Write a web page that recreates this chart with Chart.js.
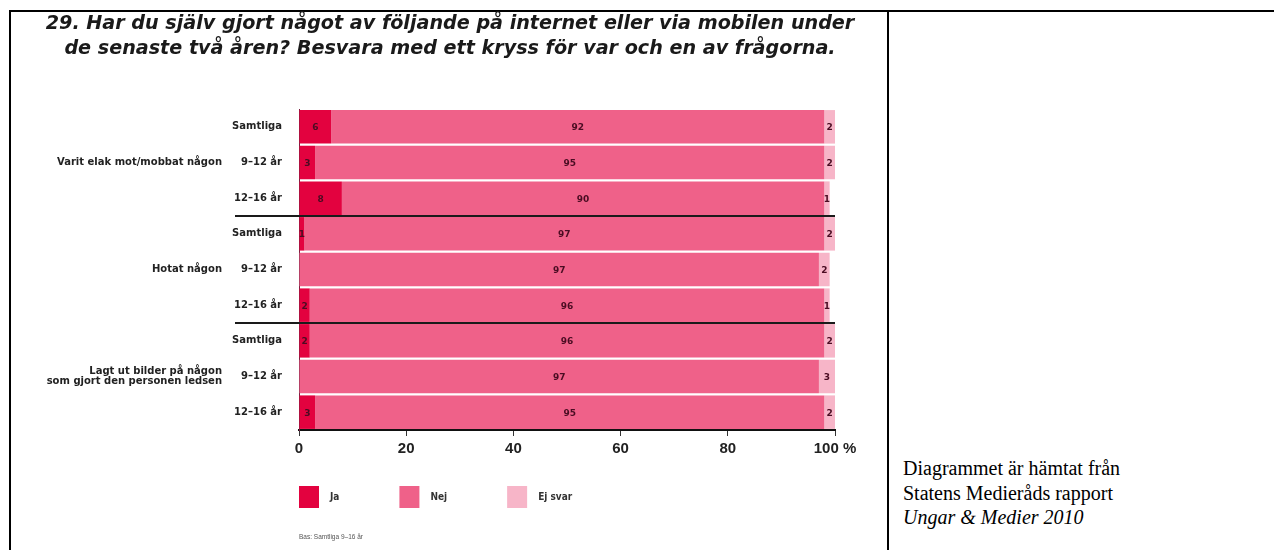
<!DOCTYPE html>
<html>
<head>
<meta charset="utf-8">
<script src="https://cdn.jsdelivr.net/npm/chart.js@4/dist/chart.umd.min.js"></script>
<style>
  html, body { margin: 0; padding: 0; background: #fff; }
  body { width: 1275px; height: 550px; position: relative; overflow: hidden; }
  .line { position: absolute; background: #000; }
  #title {
    position: absolute; left: 11px; width: 877px; top: 10px;
    text-align: center; font-family: "Liberation Sans Narrow", "DejaVu Sans Condensed", sans-serif;
    font-weight: bold; font-style: italic; font-size: 19px; line-height: 24.5px; color: #1a1a1a;
    transform: scaleX(1.12); transform-origin: 434px 0;
  }
  #wrap { position: absolute; left: 0; top: 0; width: 880px; height: 550px; }
  #note {
    position: absolute; left: 299px; top: 533px; font-family: "Liberation Sans", sans-serif;
    font-size: 6.5px; color: #555;
  }
  #source {
    position: absolute; left: 903px; top: 456px; font-family: "Liberation Serif", serif;
    font-size: 20px; line-height: 24.5px; color: #000;
  }
</style>
</head>
<body>
<div class="line" style="left:9px; top:10px; width:1265px; height:2px;"></div>
<div class="line" style="left:9px; top:10px; width:2px; height:540px;"></div>
<div class="line" style="left:887px; top:10px; width:2px; height:540px;"></div>

<div id="wrap"><canvas id="chart"></canvas></div>

<div id="title">29. Har du själv gjort något av följande på internet eller via mobilen under<br>de senaste två åren? Besvara med ett kryss för var och en av frågorna.</div>
<div id="note">Bas: Samtliga 9–16 år</div>
<div id="source">Diagrammet är hämtat från<br>Statens Medieråds rapport<br><i>Ungar &amp; Medier 2010</i></div>

<script>
// rows: three questions, each split into Samtliga / 9–12 år / 12–16 år
const groupLabels = [
    ['Varit elak mot/mobbat någon'],
    ['Hotat någon'],
    ['Lagt ut bilder på någon', 'som gjort den personen ledsen']
];
const ageLabels = ['Samtliga', '9–12 år', '12–16 år'];
const categories = [].concat(ageLabels, ageLabels, ageLabels);

const jaValues = [6, 3, 8, 1, 0, 2, 2, 0, 3];
const nejValues = [92, 95, 90, 97, 97, 96, 96, 97, 95];
const ejSvarValues = [2, 2, 1, 2, 2, 1, 2, 3, 2];

const seriesNames = ['Ja', 'Nej', 'Ej svar'];
const xTickLabels = ['0', '20', '40', '60', '80', '100 %'];

const colors = ['#e3023f', '#ef6189', '#f7b5c8'];
const labelFont = 'bold 10px "DejaVu Sans", sans-serif';

// values inside the bars
const barLabels = {
    id: 'barLabels',
    afterDatasetsDraw(chart) {
        const ctx = chart.ctx;
        ctx.save();
        ctx.font = 'bold 9px "DejaVu Sans", sans-serif';
        ctx.fillStyle = '#4a0c22';
        ctx.textAlign = 'center';
        ctx.textBaseline = 'middle';
        chart.data.datasets.forEach((ds, i) => {
            const meta = chart.getDatasetMeta(i);
            meta.data.forEach((bar, j) => {
                const v = ds.data[j];
                if (!v) return;
                ctx.fillText(String(v), (bar.x + bar.base) / 2, bar.y + 1);
            });
        });
        ctx.restore();
    }
};

// question labels, group separators, legend
const extras = {
    id: 'extras',
    afterDraw(chart) {
        const ctx = chart.ctx;
        const area = chart.chartArea;
        const y = chart.scales.y;
        ctx.save();

        ctx.font = labelFont;
        ctx.fillStyle = '#222';
        ctx.textAlign = 'right';
        ctx.textBaseline = 'middle';
        groupLabels.forEach((lines, g) => {
            const cy = y.getPixelForValue(g * 3 + 1);
            lines.forEach((t, k) => {
                ctx.fillText(t, 222, cy + (k - (lines.length - 1) / 2) * 10);
            });
        });

        ctx.strokeStyle = '#1a1a1a';
        ctx.lineWidth = 2;
        for (let g = 1; g < groupLabels.length; g++) {
            const py = Math.round((y.getPixelForValue(g * 3 - 1) + y.getPixelForValue(g * 3)) / 2);
            ctx.beginPath();
            ctx.moveTo(235, py);
            ctx.lineTo(area.right, py);
            ctx.stroke();
        }

        // legend
        let lx = area.left;
        const ly = area.bottom + 56;
        ctx.font = 'bold 10px "DejaVu Sans Condensed", sans-serif';
        ctx.textAlign = 'left';
        chart.data.datasets.forEach((ds) => {
            ctx.fillStyle = ds.backgroundColor;
            ctx.fillRect(lx, ly, 20, 22);
            ctx.fillStyle = '#333';
            ctx.fillText(ds.label, lx + 31, ly + 11);
            lx += 31 + ctx.measureText(ds.label).width + 60;
        });
        ctx.restore();
    }
};

new Chart(document.getElementById('chart'), {
    type: 'bar',
    data: {
        labels: categories,
        datasets: [
            { label: seriesNames[0], data: jaValues, backgroundColor: colors[0] },
            { label: seriesNames[1], data: nejValues, backgroundColor: colors[1] },
            { label: seriesNames[2], data: ejSvarValues, backgroundColor: colors[2] }
        ]
    },
    options: {
        indexAxis: 'y',
        responsive: true,
        maintainAspectRatio: false,
        animation: false,
        categoryPercentage: 1,
        barPercentage: 0.94,
        layout: { padding: { left: 0, top: 109, right: 45, bottom: 80 } },
        plugins: {
            legend: { display: false },
            tooltip: { enabled: false }
        },
        scales: {
            x: {
                stacked: true,
                min: 0,
                max: 100,
                afterFit: (s) => { s.height = 40; },
                grid: { drawOnChartArea: false, tickLength: 6, color: '#333' },
                border: { color: '#111', width: 2 },
                ticks: {
                    stepSize: 20,
                    padding: 4,
                    color: '#222',
                    font: { family: 'Liberation Sans', size: 15, weight: 'bold' },
                    callback: (v, i) => xTickLabels[i]
                }
            },
            y: {
                stacked: true,
                afterFit: (s) => { s.width = 299; },
                grid: { display: false },
                border: { color: '#7a2040', width: 1 },
                ticks: {
                    padding: 9,
                    color: '#222',
                    font: { family: 'DejaVu Sans', size: 10, weight: 'bold' }
                }
            }
        }
    },
    plugins: [barLabels, extras]
});
</script>
</body>
</html>
